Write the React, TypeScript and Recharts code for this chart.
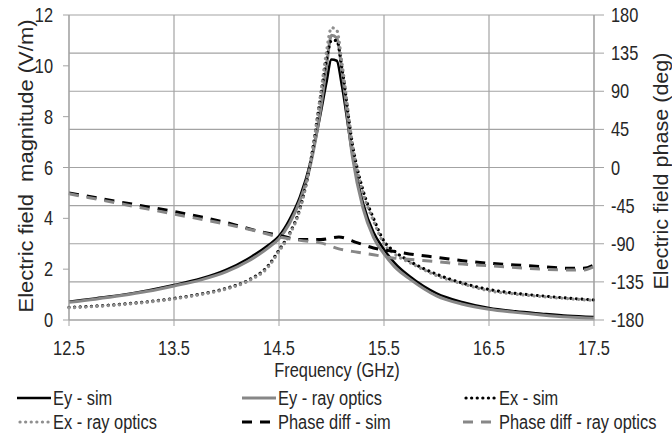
import { CartesianGrid, Line, LineChart, XAxis, YAxis } from "recharts";

// Liberation Sans squeezed to 82% width gives the narrow look of the original
const FONT = "'Liberation Sans', Arial, sans-serif";
const SQUEEZE = 0.82;
const GRID = "#a3a3a3";
const TEXT = "#262626";
const GRAY = "#878787";

// frequency (GHz) for the magnitude curves
const FREQ = [
  12.5, 12.75, 13, 13.25, 13.5, 13.75, 14, 14.2, 14.4, 14.5, 14.6, 14.7, 14.8, 14.9, 14.95, 15,
  15.05, 15.1, 15.2, 15.3, 15.4, 15.5, 15.6, 15.75, 16, 16.25, 16.5, 16.75, 17, 17.25, 17.5,
];
const EY_SIM = [
  0.72, 0.85, 0.98, 1.16, 1.38, 1.62, 1.98, 2.4, 2.95, 3.3, 3.95, 4.85, 6.2, 8.2, 9.3, 10.25,
  10.2, 9.2, 6.5, 4.6, 3.45, 2.78, 2.25, 1.7, 1.05, 0.7, 0.47, 0.34, 0.25, 0.17, 0.12,
];
const EY_RAY = [
  0.7, 0.82, 0.96, 1.13, 1.34, 1.57, 1.9, 2.3, 2.85, 3.2, 3.8, 4.7, 6.1, 8.4, 9.9, 11.2,
  11.1, 9.8, 6.4, 4.4, 3.25, 2.6, 2.1, 1.6, 0.95, 0.62, 0.42, 0.3, 0.2, 0.12, 0.07,
];
const EX_SIM = [
  0.5, 0.55, 0.62, 0.72, 0.85, 1.02, 1.25, 1.55, 2.15, 2.75, 3.4, 4.4, 6.2, 8.9, 10.2, 11.0,
  11.0, 9.9, 6.9, 5.1, 4.0, 3.1, 2.7, 2.3, 1.8, 1.45, 1.2, 1.05, 0.95, 0.86, 0.79,
];
const EX_RAY = [
  0.48, 0.53, 0.6, 0.7, 0.83, 1.0, 1.22, 1.52, 2.1, 2.7, 3.35, 4.35, 6.2, 9.0, 10.5, 11.5,
  11.4, 10.1, 6.9, 5.0, 3.9, 3.0, 2.6, 2.25, 1.75, 1.42, 1.15, 1.02, 0.92, 0.84, 0.77,
];

// frequency (GHz) for the phase curves
const PHASE_FREQ = [
  12.5, 13, 13.5, 14, 14.3, 14.5, 14.7, 14.9, 15.07, 15.25, 15.4, 15.6, 15.8, 16, 16.25, 16.5,
  16.75, 17, 17.25, 17.4, 17.5,
];
const PHASE_SIM = [
  -30, -41, -52, -65, -75, -80, -85, -85, -82, -89, -95, -99, -103, -106, -110, -113, -115, -117,
  -119, -119, -115,
];
const PHASE_RAY = [
  -31, -43, -55, -67, -75.5, -82, -86, -89, -96, -100, -103, -107, -109, -111, -114, -116, -118,
  -120, -121, -121, -117,
];

const X_TICKS = [12.5, 13.5, 14.5, 15.5, 16.5, 17.5];
const MAG_TICKS = [0, 2, 4, 6, 8, 10, 12];
const PHASE_TICKS = [-180, -135, -90, -45, 0, 45, 90, 135, 180];

const magData = FREQ.map((f, i) => ({
  f,
  eySim: EY_SIM[i],
  eyRay: EY_RAY[i],
  exSim: EX_SIM[i],
  exRay: EX_RAY[i],
}));
const phaseData = PHASE_FREQ.map((f, i) => ({ f, phSim: PHASE_SIM[i], phRay: PHASE_RAY[i] }));

const DOTS = "0.1 5.5";
const SERIES = [
  { key: "eySim", name: "Ey - sim", color: "#000", dash: undefined, width: 2.5, axis: "mag" },
  { key: "eyRay", name: "Ey - ray optics", color: GRAY, dash: undefined, width: 3, axis: "mag" },
  { key: "exSim", name: "Ex - sim", color: "#000", dash: DOTS, width: 3.2, axis: "mag" },
  { key: "exRay", name: "Ex - ray optics", color: "#8f8f8f", dash: DOTS, width: 3.2, axis: "mag" },
  { key: "phSim", name: "Phase diff - sim", color: "#000", dash: "10 8", width: 3, axis: "phase" },
  { key: "phRay", name: "Phase diff - ray optics", color: GRAY, dash: "10 8", width: 3, axis: "phase" },
];

const LEGEND_COLS = [17, 242, 463];
const LEGEND_ROWS = [398, 422];

function NarrowTick(props: any) {
  const { x, y, payload, textAnchor, dy } = props;
  return (
    <g transform={`translate(${x},${y}) scale(${SQUEEZE},1)`}>
      <text textAnchor={textAnchor} dy={dy} fontSize={20} fontFamily={FONT} fill={TEXT}>
        {payload.value}
      </text>
    </g>
  );
}

function VerticalTitle({ x, y, length, text }: { x: number; y: number; length: number; text: string }) {
  return (
    <text
      x={x}
      y={y}
      transform={`rotate(-90 ${x} ${y})`}
      textAnchor="middle"
      textLength={length}
      lengthAdjust="spacingAndGlyphs"
      fontSize={20}
      fontFamily={FONT}
      fill={TEXT}
      style={{ whiteSpace: "pre" }}
    >
      {text}
    </text>
  );
}

function Legend() {
  return (
    <>
      {SERIES.map((s, i) => {
        const left = LEGEND_COLS[i % 3];
        const top = LEGEND_ROWS[Math.floor(i / 3)] - 12;
        return (
          <div
            key={s.key}
            style={{
              position: "absolute",
              left,
              top,
              height: 24,
              display: "flex",
              alignItems: "center",
              fontFamily: FONT,
              fontSize: 20,
              color: TEXT,
              whiteSpace: "nowrap",
            }}
          >
            <svg width={34} height={10} style={{ marginRight: 2 }}>
              <line
                x1={s.dash === DOTS ? 3 : 0}
                y1={5}
                x2={34}
                y2={5}
                stroke={s.color}
                strokeWidth={s.width}
                strokeDasharray={s.dash}
                strokeLinecap={s.dash === DOTS ? "round" : "butt"}
              />
            </svg>
            <span style={{ display: "inline-block", transform: `scaleX(${SQUEEZE})`, transformOrigin: "left center" }}>
              {s.name}
            </span>
          </div>
        );
      })}
    </>
  );
}

export default function App() {
  return (
    <div style={{ position: "absolute", left: 0, top: 0, width: 672, height: 436, background: "#fff" }}>
      <LineChart width={672} height={436} margin={{ top: 15, right: 0, bottom: 0, left: 0 }}>
        <CartesianGrid yAxisId="phase" stroke={GRID} strokeWidth={1.2} />
        <XAxis
          dataKey="f"
          type="number"
          domain={[12.5, 17.5]}
          ticks={X_TICKS}
          tick={<NarrowTick dy="0.71em" />}
          tickSize={6}
          tickMargin={15}
          height={116}
          axisLine={{ stroke: GRID }}
          tickLine={{ stroke: GRID }}
          label={{
            content: () => (
              <g transform={`translate(337,377) scale(${SQUEEZE},1)`}>
                <text textAnchor="middle" fontSize={20} fontFamily={FONT} fill={TEXT}>
                  Frequency (GHz)
                </text>
              </g>
            ),
          }}
        />
        <YAxis
          yAxisId="mag"
          domain={[0, 12]}
          ticks={MAG_TICKS}
          tick={<NarrowTick dy="0.355em" />}
          tickSize={6}
          tickMargin={10}
          width={69}
          axisLine={{ stroke: GRID }}
          tickLine={{ stroke: GRID }}
          label={{
            content: () => (
              <VerticalTitle x={33} y={166} length={293} text="Electric field  magnitude (V/m)" />
            ),
          }}
        />
        <YAxis
          yAxisId="phase"
          orientation="right"
          domain={[-180, 180]}
          ticks={PHASE_TICKS}
          tick={<NarrowTick dy="0.355em" />}
          tickSize={10}
          tickMargin={7}
          width={78}
          axisLine={{ stroke: GRID }}
          tickLine={{ stroke: GRID }}
          label={{
            content: () => (
              <VerticalTitle x={668} y={171} length={237} text="Electric field phase (deg)" />
            ),
          }}
        />
        {SERIES.map((s) => (
          <Line
            key={s.key}
            data={s.axis === "mag" ? magData : phaseData}
            yAxisId={s.axis}
            dataKey={s.key}
            name={s.name}
            type="monotone"
            stroke={s.color}
            strokeWidth={s.width}
            strokeDasharray={s.dash}
            strokeLinecap={s.dash === DOTS ? "round" : "butt"}
            dot={false}
            activeDot={false}
            isAnimationActive={false}
          />
        ))}
      </LineChart>
      <Legend />
    </div>
  );
}
